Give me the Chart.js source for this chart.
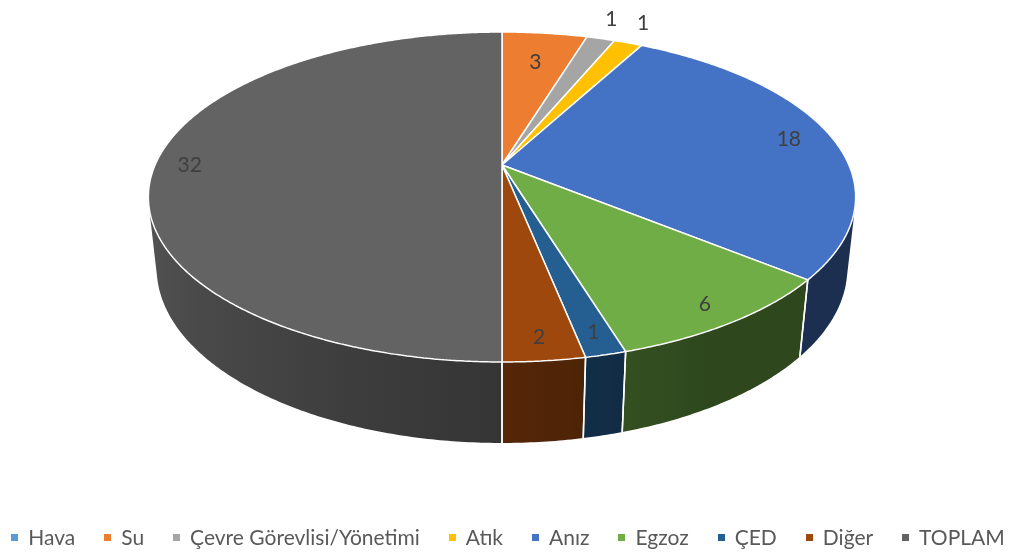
<!DOCTYPE html>
<html>
<head>
<meta charset="utf-8">
<script src="https://cdn.jsdelivr.net/npm/chart.js@4/dist/chart.umd.min.js"></script>
<style>
  html, body { margin: 0; padding: 0; background: #ffffff; }
  #c { display: block; }
</style>
</head>
<body>
<canvas id="c" width="1011" height="553"></canvas>
<script>
const categories = ['Hava', 'Su', 'Çevre Görevlisi/Yönetimi', 'Atık', 'Anız', 'Egzoz', 'ÇED', 'Diğer', 'TOPLAM'];
const counts = [0, 3, 1, 1, 18, 6, 1, 2, 32];
const sliceColors = ['#5B9BD5', '#ED7D31', '#A5A5A5', '#FFC000', '#4472C4', '#70AD47', '#255E91', '#9E480E', '#636363'];

const FONT_FAMILY = 'Lato, "Open Sans", sans-serif';

// Perspective camera looking down on the disc (unit radius, centre at origin).
const VIEW = {
  cx: 502, cy: 165,      // screen position of the disc centre
  focal: 1591,
  sinA: 0.4577,          // camera elevation
  dist: 4.586,           // camera distance in disc radii
  depth: 0.2326          // disc thickness in disc radii
};
VIEW.cosA = Math.sqrt(1 - VIEW.sinA * VIEW.sinA);

// u: right, v: towards the viewer, w: up (top face at w = 0)
function project(u, v, w) {
  const y = v * VIEW.sinA - w * VIEW.cosA;
  const z = VIEW.dist - v * VIEW.cosA - w * VIEW.sinA;
  return [VIEW.cx + VIEW.focal * u / z, VIEW.cy + VIEW.focal * y / z];
}

function hexToRgb(hex) {
  const n = parseInt(hex.slice(1), 16);
  return [(n >> 16) & 255, (n >> 8) & 255, n & 255];
}
function shaded(hex, f) {
  const [r, g, b] = hexToRgb(hex);
  return `rgb(${Math.round(r * f)},${Math.round(g * f)},${Math.round(b * f)})`;
}
// side walls get darker towards the right
function wallShade(theta) {
  const t = Math.min(1, Math.max(0, (theta - Math.PI / 3) / (110 * Math.PI / 180)));
  return 0.41 + 0.46 * t;
}

const PATH_METHODS = ['beginPath', 'moveTo', 'lineTo', 'arc'];

const disc3d = {
  id: 'disc3d',
  beforeDatasetsDraw(chart) {
    const ctx = chart.ctx;
    const arcs = chart.getDatasetMeta(0).data;
    const th0 = Math.asin(1 / (VIEW.dist * VIEW.cosA));
    const lo = th0, hi = Math.PI - th0;
    const h = -VIEW.depth;

    ctx.save();
    // side walls of the front half
    arcs.forEach((arc, i) => {
      if (!counts[i]) return;
      const a = Math.max(arc.startAngle, lo);
      const b = Math.min(arc.endAngle, hi);
      if (b <= a) return;
      const n = Math.max(2, Math.ceil((b - a) / 0.01));
      ctx.beginPath();
      for (let k = 0; k <= n; k++) {
        const t = a + (b - a) * k / n;
        const p = project(Math.cos(t), Math.sin(t), 0);
        if (k === 0) ctx.moveTo(p[0], p[1]); else ctx.lineTo(p[0], p[1]);
      }
      for (let k = n; k >= 0; k--) {
        const t = a + (b - a) * k / n;
        const p = project(Math.cos(t), Math.sin(t), h);
        ctx.lineTo(p[0], p[1]);
      }
      ctx.closePath();
      const xa = project(Math.cos(a), Math.sin(a), 0)[0];
      const xb = project(Math.cos(b), Math.sin(b), 0)[0];
      if (Math.abs(xa - xb) < 1) {
        ctx.fillStyle = shaded(sliceColors[i], wallShade((a + b) / 2));
      } else {
        const g = ctx.createLinearGradient(xb, 0, xa, 0);
        for (let k = 0; k <= 10; k++) {
          const t = b - (b - a) * k / 10;
          const x = project(Math.cos(t), Math.sin(t), 0)[0];
          const off = Math.min(1, Math.max(0, (x - xb) / (xa - xb)));
          g.addColorStop(off, shaded(sliceColors[i], wallShade(t)));
        }
        ctx.fillStyle = g;
      }
      ctx.fill();
    });
    // white seams between the walls
    ctx.strokeStyle = '#ffffff';
    ctx.lineWidth = 1.5;
    arcs.forEach((arc, i) => {
      if (!counts[i]) return;
      [arc.startAngle, arc.endAngle].forEach(t => {
        if (t <= lo || t >= hi) return;
        const p1 = project(Math.cos(t), Math.sin(t), 0);
        const p2 = project(Math.cos(t), Math.sin(t), h);
        ctx.beginPath();
        ctx.moveTo(p1[0], p1[1]);
        ctx.lineTo(p2[0], p2[1]);
        ctx.stroke();
      });
    });
    ctx.restore();

    // top face: route the arc elements' paths through the camera
    const ref = arcs[0];
    const cx0 = ref.x, cy0 = ref.y, R = ref.outerRadius;
    const proto = Object.getPrototypeOf(ctx);
    const toScreen = (x, y) => project((x - cx0) / R, (y - cy0) / R, 0);
    let open = false;
    ctx.beginPath = function () { proto.beginPath.call(ctx); open = false; };
    ctx.moveTo = function (x, y) {
      const p = toScreen(x, y); proto.moveTo.call(ctx, p[0], p[1]); open = true;
    };
    ctx.lineTo = function (x, y) {
      const p = toScreen(x, y);
      (open ? proto.lineTo : proto.moveTo).call(ctx, p[0], p[1]); open = true;
    };
    ctx.arc = function (x, y, r, s, e, ccw) {
      let sweep = e - s;
      if (!ccw) {
        if (sweep >= 2 * Math.PI) sweep = 2 * Math.PI;
        while (sweep < 0) sweep += 2 * Math.PI;
      } else {
        if (sweep <= -2 * Math.PI) sweep = -2 * Math.PI;
        while (sweep > 0) sweep -= 2 * Math.PI;
      }
      const n = Math.max(1, Math.ceil(Math.abs(sweep) / 0.008));
      for (let k = 0; k <= n; k++) {
        const t = s + sweep * k / n;
        const p = toScreen(x + r * Math.cos(t), y + r * Math.sin(t));
        if (k === 0 && !open) proto.moveTo.call(ctx, p[0], p[1]);
        else proto.lineTo.call(ctx, p[0], p[1]);
      }
      open = true;
    };
  },
  afterDatasetsDraw(chart) {
    const ctx = chart.ctx;
    PATH_METHODS.forEach(m => { delete ctx[m]; });

    // value labels
    const arcs = chart.getDatasetMeta(0).data;
    const total = counts.reduce((s, v) => s + v, 0);
    ctx.save();
    ctx.font = '21px ' + FONT_FAMILY;
    ctx.fillStyle = '#404040';
    ctx.textAlign = 'center';
    ctx.textBaseline = 'middle';
    arcs.forEach((arc, i) => {
      const val = counts[i];
      if (!val) return;
      const mid = (arc.startAngle + arc.endAngle) / 2;
      const s = Math.sin(mid);
      const outside = val / total < 0.03 && s < 0;
      const r = outside ? 1.19 : 0.9 - 0.15 * Math.max(0, -s);
      const p = project(r * Math.cos(mid), r * s, 0);
      ctx.fillText(String(val), p[0] - (outside ? 5 : 0), p[1]);
    });
    ctx.restore();
  }
};

// single-row legend along the bottom edge
const bottomLegend = {
  id: 'bottomLegend',
  afterDraw(chart) {
    const ctx = chart.ctx;
    const box = 7, textGap = 10, itemGap = 29, centreX = 508, midY = 537.5, baseY = 545;
    ctx.save();
    ctx.font = '21px ' + FONT_FAMILY;
    const widths = categories.map(t => ctx.measureText(t).width);
    const rowWidth = widths.reduce((s, w) => s + box + textGap + w, 0) + itemGap * (categories.length - 1);
    let x = centreX - rowWidth / 2;
    ctx.textBaseline = 'alphabetic';
    ctx.textAlign = 'left';
    categories.forEach((t, i) => {
      ctx.fillStyle = sliceColors[i];
      ctx.fillRect(Math.round(x), Math.round(midY - box / 2), box, box);
      ctx.fillStyle = '#595959';
      ctx.fillText(t, x + box + textGap, baseY);
      x += box + textGap + widths[i] + itemGap;
    });
    ctx.restore();
  }
};

new Chart(document.getElementById('c'), {
  type: 'pie',
  data: {
    labels: categories,
    datasets: [{
      data: counts,
      backgroundColor: sliceColors,
      borderColor: '#ffffff',
      borderWidth: 1.5,
      clip: false
    }]
  },
  options: {
    responsive: false,
    animation: false,
    devicePixelRatio: 1,
    events: [],
    layout: { padding: { bottom: 60 } },
    plugins: {
      tooltip: { enabled: false },
      legend: { display: false }
    }
  },
  plugins: [disc3d, bottomLegend]
});
</script>
</body>
</html>
